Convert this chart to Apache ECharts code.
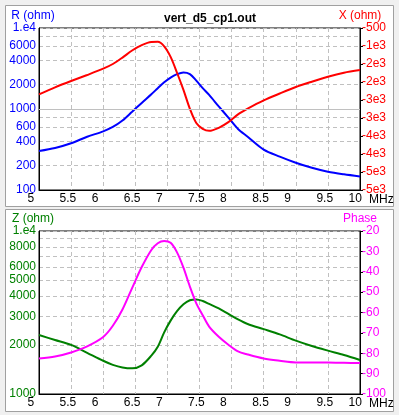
<!DOCTYPE html>
<html>
<head>
<meta charset="utf-8">
<script src="https://cdn.jsdelivr.net/npm/echarts@6/dist/echarts.min.js"></script>
<style>
html, body { margin: 0; padding: 0; background: #f0f0f0; }
#chart { width: 399px; height: 415px; }
</style>
</head>
<body>
<div id="chart"></div>
<script>
// frequency points (MHz)
const freq = [5, 5.25, 5.5, 5.75, 6, 6.15, 6.3, 6.45, 6.6, 6.75, 6.85, 6.95, 7.05, 7.15, 7.25, 7.35, 7.45, 7.55, 7.65, 7.8, 7.95, 8.1, 8.25, 8.5, 8.75, 9, 9.25, 9.5, 9.75, 10]
// R (ohm)
const resistance = [303, 330, 377, 455, 530, 600, 720, 924, 1189, 1520, 1806, 2134, 2445, 2690, 2830, 2700, 2240, 1811, 1493, 1076, 783, 566, 455, 315, 258, 217, 188, 168, 156, 147]
// X (ohm)
const reactance = [-2343, -2148, -1972, -1806, -1630, -1500, -1322, -1125, -975, -889, -885, -1009, -1302, -1743, -2220, -2745, -3140, -3300, -3355, -3272, -3115, -2900, -2740, -2510, -2320, -2140, -1991, -1852, -1741, -1667]
// Z (ohm)
const impedance = [2301, 2144, 2000, 1790, 1600, 1510, 1455, 1437, 1500, 1720, 1950, 2390, 2820, 3220, 3550, 3760, 3805, 3720, 3570, 3350, 3100, 2870, 2690, 2500, 2320, 2124, 1969, 1845, 1735, 1617]
// Phase (deg)
const phase = [-82.6, -81.6, -79.6, -76.6, -72, -66.5, -58.5, -48, -37.7, -29.3, -26, -24.9, -25.8, -30.5, -38, -47.3, -55.5, -61.3, -66.9, -71.9, -75.8, -79.1, -80.6, -82.6, -83.7, -84.5, -84.5, -84.6, -84.7, -84.8]

const rTicks = [100, 200, 400, 600, 800, 1000, 2000, 4000, 6000, 8000, 10000]
const rLabels = [100, 200, 400, 600, 1000, 2000, 4000, 6000, 10000]
const zTicks = [1000, 2000, 3000, 4000, 5000, 6000, 7000, 8000, 9000, 10000]
const zLabels = [1000, 2000, 3000, 4000, 5000, 6000, 8000, 10000]

const FONT = 'Liberation Sans, Arial, sans-serif'
const gridLine = { show: true, lineStyle: { color: '#c0c0c0', type: [4, 3], width: 1 } }

const pairs = (vals) => freq.map((f, i) => [f, vals[i]])
const logLabel = (v) => {
  const n = Math.round(v)
  return n === 10000 ? '1.e4' : String(n)
}
const xLabel = (v) => v === -500 ? '-500' : '-' + Math.round(-v / 1000) + 'e3'

const makeXAxis = (gridIndex) => ({
  type: 'value',
  gridIndex,
  min: 5,
  max: 10,
  interval: 0.5,
  name: 'MHz',
  nameLocation: 'end',
  nameGap: 9,
  nameMoveOverlap: false,
  nameTextStyle: { color: '#000', fontFamily: FONT, fontSize: 12, verticalAlign: 'top', lineHeight: 20 },
  axisLine: { show: true, onZero: false, lineStyle: { color: '#000', width: 1 } },
  axisTick: { show: false },
  axisLabel: {
    color: '#000', fontFamily: FONT, fontSize: 12, margin: 3, interval: 0,
    align: 'left', padding: [0, 0, 0, -11.5],
    formatter: (v) => String(v)
  },
  splitLine: gridLine
})

const makeLogAxis = (gridIndex, name, color, min, ticks, labels) => ({
  type: 'log',
  logBase: 10,
  gridIndex,
  min,
  max: 10000,
  position: 'left',
  name,
  nameLocation: 'end',
  nameGap: 6,
  nameMoveOverlap: false,
  nameTextStyle: { color, fontFamily: FONT, fontSize: 12, align: 'center', padding: [0, 12, 0, 0] },
  axisLine: { show: true, lineStyle: { color: '#000', width: 1 } },
  axisTick: { show: false, customValues: ticks },
  axisLabel: { color, fontFamily: FONT, fontSize: 12, margin: 3, customValues: labels, formatter: logLabel },
  splitLine: gridLine
})

const makeRightAxis = (gridIndex, name, color, min, max, interval, formatter) => ({
  type: 'value',
  gridIndex,
  min,
  max,
  interval,
  position: 'right',
  name,
  nameLocation: 'end',
  nameGap: 6,
  nameMoveOverlap: false,
  nameTextStyle: { color, fontFamily: FONT, fontSize: 12, align: 'center' },
  axisLine: { show: true, lineStyle: { color: '#000', width: 1 } },
  axisTick: { show: true, inside: false, length: 3, lineStyle: { color: '#000' } },
  axisLabel: { color, fontFamily: FONT, fontSize: 12, margin: 2, formatter },
  splitLine: { show: false }
})

const lineSeries = (name, vals, color, xIdx, yIdx) => ({
  name,
  type: 'line',
  xAxisIndex: xIdx,
  yAxisIndex: yIdx,
  data: pairs(vals),
  showSymbol: false,
  smooth: 0.3,
  lineStyle: { color, width: 2 },
  itemStyle: { color },
  z: 3
})

const chart = echarts.init(document.getElementById('chart'))

chart.setOption({
  backgroundColor: '#f0f0f0',
  animation: false,
  textStyle: { fontFamily: FONT },
  title: {
    text: 'vert_d5_cp1.out',
    left: 205,
    top: 8,
    textAlign: 'center',
    textStyle: { color: '#000', fontFamily: FONT, fontSize: 12, fontWeight: 'bold' }
  },
  graphic: [
    { type: 'rect', z: -10, shape: { x: 5.5, y: 5.5, width: 388, height: 201 }, style: { fill: '#fff', stroke: '#a0a0a0', lineWidth: 1 } },
    { type: 'rect', z: -10, shape: { x: 5.5, y: 209.5, width: 388, height: 202 }, style: { fill: '#fff', stroke: '#a0a0a0', lineWidth: 1 } }
  ],
  grid: [
    { left: 39, top: 28, width: 321, height: 162, show: true, borderColor: '#000', borderWidth: 1, backgroundColor: 'transparent', outerBoundsMode: 'none' },
    { left: 39, top: 231, width: 321, height: 163, show: true, borderColor: '#000', borderWidth: 1, backgroundColor: 'transparent', outerBoundsMode: 'none' }
  ],
  xAxis: [makeXAxis(0), makeXAxis(1)],
  yAxis: [
    makeLogAxis(0, 'R (ohm)', '#0000ff', 100, rTicks, rLabels),
    makeRightAxis(0, 'X (ohm)', '#ff0000', -5000, -500, 500, xLabel),
    makeLogAxis(1, 'Z (ohm)', '#008000', 1000, zTicks, zLabels),
    makeRightAxis(1, 'Phase', '#ff00ff', -100, -20, 10, (v) => String(v))
  ],
  series: [
    {
      name: 'ref1000',
      type: 'line',
      xAxisIndex: 0,
      yAxisIndex: 0,
      data: [],
      z: 1,
      markLine: {
        silent: true,
        symbol: 'none',
        label: { show: false },
        lineStyle: { color: '#c0c0c0', type: 'solid', width: 1 },
        data: [{ yAxis: 1000 }]
      }
    },
    lineSeries('R', resistance, '#0000ff', 0, 0),
    lineSeries('X', reactance, '#ff0000', 0, 1),
    lineSeries('Z', impedance, '#008000', 1, 2),
    lineSeries('Phase', phase, '#ff00ff', 1, 3)
  ]
})
</script>
</body>
</html>
